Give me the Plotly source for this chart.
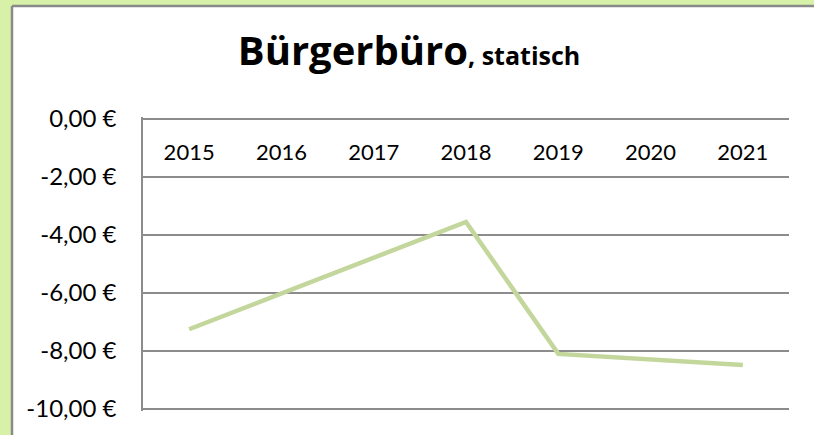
import plotly.graph_objects as go

years = ["2015", "2016", "2017", "2018", "2019", "2020", "2021"]
values = [-7.25, -6.02, -4.78, -3.55, -8.10, -8.30, -8.48]
y_ticks = [0, -2, -4, -6, -8, -10]
y_tick_labels = ["0,00 €", "-2,00 €", "-4,00 €", "-6,00 €", "-8,00 €", "-10,00 €"]

W, H = 814, 435
ml, mr, mt, mb = 143, 25, 117, 24
pw, ph = W - ml - mr, H - mt - mb
pad = 2 / 29.0

def px_x(p):
    return (p - ml) / pw

def px_y(p):
    return (H - mb - p) / ph

fig = go.Figure()
fig.add_trace(go.Scatter(
    x=years, y=values, mode="lines",
    line=dict(color="#c3d69b", width=4.5),
    hoverinfo="skip",
))

border = dict(color="#8a8a8a", width=2.5)
fig.update_layout(
    width=W, height=H,
    margin=dict(l=ml, r=mr, t=mt, b=mb),
    paper_bgcolor="#d8f1a9",
    plot_bgcolor="rgba(0,0,0,0)",
    showlegend=False,
    font=dict(family="Lato, Open Sans, sans-serif", color="black"),
    title=dict(
        text="<b>Bürgerbüro</b><b><span style='font-size:25px'>, statisch</span></b>",
        x=409 / W, xanchor="center", xref="container",
        y=1 - 51 / H, yanchor="middle", yref="container",
        font=dict(size=40, family="Open Sans, sans-serif", color="black"),
    ),
    xaxis=dict(
        type="category", range=[-0.5, 6.5],
        side="top", anchor="free", position=px_y(164),
        showgrid=False, showline=False, zeroline=False, ticks="",
        tickfont=dict(size=22),
    ),
    yaxis=dict(
        range=[-10 - pad, 0 + pad], tickvals=y_ticks, ticktext=y_tick_labels,
        showgrid=True, gridcolor="#8c8c8c", gridwidth=1.5,
        showline=True, linecolor="#8c8c8c", linewidth=1.5,
        zeroline=False, ticks="", ticklabelstandoff=20,
        tickfont=dict(size=24),
    ),
    shapes=[
        dict(type="rect", xref="paper", yref="paper",
             x0=px_x(12), x1=px_x(860), y0=px_y(480), y1=px_y(6),
             fillcolor="white", line=dict(width=0), layer="below"),
        dict(type="line", xref="paper", yref="paper",
             x0=px_x(12), x1=px_x(860), y0=px_y(6), y1=px_y(6),
             line=border, layer="below"),
        dict(type="line", xref="paper", yref="paper",
             x0=px_x(12), x1=px_x(12), y0=px_y(6), y1=px_y(480),
             line=border, layer="below"),
    ],
)

fig.write_html("out.html", config={"displayModeBar": False},
               post_script="document.body.style.margin='0';document.body.style.overflow='hidden';")
